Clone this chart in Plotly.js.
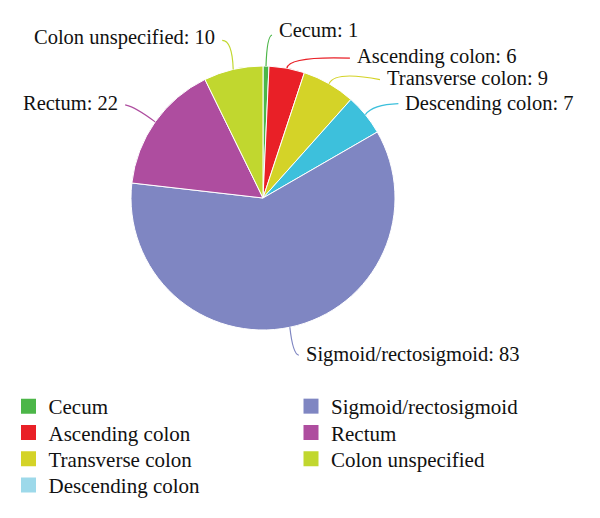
<!DOCTYPE html>
<html><head><meta charset="utf-8">
<script src="https://cdn.plot.ly/plotly-3.0.1.min.js"></script>
<style>html,body{margin:0;padding:0;background:#fff}</style>
</head><body><div id="chart" style="width:600px;height:518px"></div>
<script>
// ---- data ----
const categories = ["Cecum","Ascending colon","Transverse colon","Descending colon","Sigmoid/rectosigmoid","Rectum","Colon unspecified"];
const counts = [1, 6, 9, 7, 83, 22, 10];

// ---- styles ----
const sliceColors = ["#4cb648","#e92027","#d4d328","#3dc0dc","#7f86c2","#ae4d9f","#c1d72f"];
const legendColors = ["#4cb648","#e92027","#d4d328","#9dd9ea","#7f86c2","#ae4d9f","#c1d72f"];
const legendCol = [0,0,0,0,1,1,1];
const legendRow = [0,1,2,3,0,1,2];
// leader line end / control offsets (px) from slice edge midpoint
const leaderEnd  = [[6,-31],[63,-10],[51,-4],[33,-11],[9,28],[-30,-17],[-11,-29]];
const leaderCtrl = [[1,-30],[2,-12],[6,-13],[7,-10],[3,27],[-20,-15],[-1,-29]];
const labelDy = [-5,-2,-2,0,-1,-2,-3];

const W = 600, H = 518;
const FONT = "Liberation Serif, Times New Roman, serif";
const dom = {x:[131/W, 395/W], y:[1-330/H, 1-66/H]};

const cx = (dom.x[0]+dom.x[1])/2*W;
const cy = (1-(dom.y[0]+dom.y[1])/2)*H;
const R = Math.min((dom.x[1]-dom.x[0])*W, (dom.y[1]-dom.y[0])*H)/2;
const total = counts.reduce((a,b)=>a+b,0);

const px = x => x/W, py = y => 1 - y/H;

const shapes = [], annotations = [];
let cum = 0;
counts.forEach((v,i)=>{
  const mid = (cum + v/2)/total*2*Math.PI; cum += v;
  const P = [cx + R*Math.sin(mid), cy - R*Math.cos(mid)];
  const E = [P[0]+leaderEnd[i][0], P[1]+leaderEnd[i][1]];
  const C = [P[0]+leaderCtrl[i][0], P[1]+leaderCtrl[i][1]];
  shapes.push({type:"path", xref:"paper", yref:"paper",
    path:`M ${px(P[0])} ${py(P[1])} Q ${px(C[0])} ${py(C[1])} ${px(E[0])} ${py(E[1])}`,
    line:{color:sliceColors[i], width:1.2}});
  const right = E[0] >= P[0];
  annotations.push({xref:"paper", yref:"paper", x:px(E[0]), y:py(E[1]+labelDy[i]),
    text:`${categories[i]}: ${v}`, showarrow:false,
    xanchor: right ? "left" : "right", yanchor:"middle",
    xshift: right ? 5 : -5,
    font:{family:FONT, size:20.5, color:"#111"}});
});

const traces = [{
  type:"pie", labels:categories, values:counts, sort:false, direction:"clockwise", rotation:0,
  marker:{colors:sliceColors, line:{color:"#ffffff", width:1}},
  textinfo:"none", showlegend:false, domain:dom, hoverinfo:"label+value"
}];

const layout = {
  width:W, height:H, margin:{l:0,r:0,t:0,b:0},
  paper_bgcolor:"#fff", plot_bgcolor:"#fff",
  xaxis:{visible:false, range:[0,1]}, yaxis:{visible:false, range:[0,1]},
  shapes, annotations
};

const colX = [8.5, 291];
categories.forEach((c,i)=>{
  const id = i === 0 ? "legend" : "legend" + (i+1);
  traces.push({type:"scatter", mode:"markers", x:[null], y:[null], name:c,
    legend:id, hoverinfo:"skip",
    marker:{symbol:"square", size:15, color:legendColors[i]}});
  layout[id] = {font:{family:FONT, size:21, color:"#111"}, bgcolor:"rgba(0,0,0,0)",
    xanchor:"left", yanchor:"top", orientation:"v",
    x: colX[legendCol[i]]/W, y: 1 - (386 + 26.3*legendRow[i])/H};
});

Plotly.newPlot("chart", traces, layout, {displayModeBar:false, staticPlot:true});
</script></body></html>
